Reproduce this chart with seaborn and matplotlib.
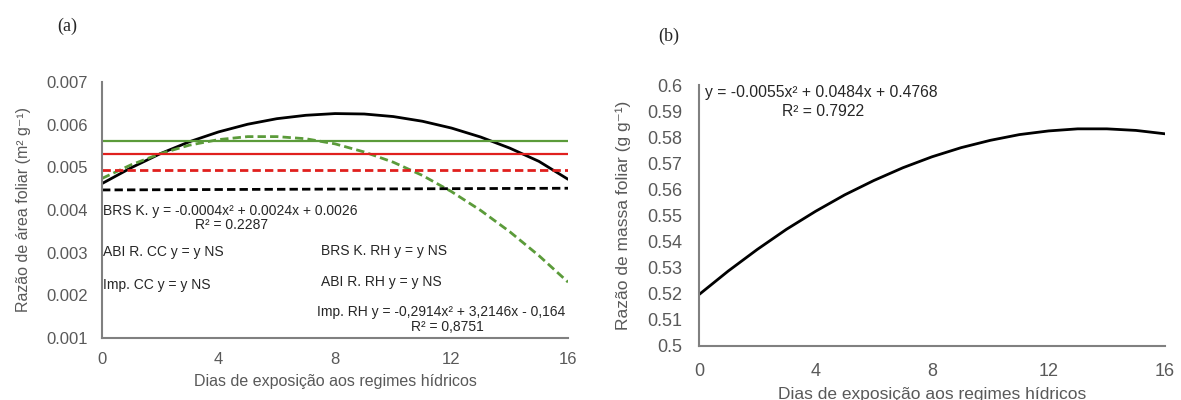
import matplotlib
matplotlib.use("Agg")
import matplotlib.pyplot as plt
import numpy as np
import pandas as pd
import seaborn as sns

# ── Data ────────────────────────────────────────────────────────────────────
days = list(range(0, 17))

# (a) leaf area ratio (m2 g-1)
brs_cc = [0.00462, 0.00499, 0.00532, 0.00560, 0.00583, 0.00601, 0.00614, 0.00622,
          0.00626, 0.00625, 0.00619, 0.00608, 0.00592, 0.00571, 0.00545, 0.00514, 0.00472]
imp_rh = [0.00474, 0.00506, 0.00532, 0.00552, 0.00565, 0.00572, 0.00572, 0.00567,
          0.00555, 0.00536, 0.00512, 0.00481, 0.00443, 0.00399, 0.00349, 0.00293, 0.00231]
days_flat = [0, 16]
imp_cc = [0.00562, 0.00562]
abi_cc = [0.00532, 0.00532]
abi_rh = [0.00494, 0.00494]
brs_rh = [0.00447, 0.00451]

# (b) leaf mass ratio (g g-1)
rmf = [0.5197, 0.5287, 0.5370, 0.5447, 0.5516, 0.5579, 0.5634, 0.5683, 0.5725,
       0.5760, 0.5788, 0.5810, 0.5824, 0.5832, 0.5832, 0.5826, 0.5813]

xticks = [0, 4, 8, 12, 16]
yticks_a = [0.001, 0.002, 0.003, 0.004, 0.005, 0.006, 0.007]
yticks_b = [0.5, 0.51, 0.52, 0.53, 0.54, 0.55, 0.56, 0.57, 0.58, 0.59, 0.6]

GREEN = "#5B9B3A"
RED = "#E0201E"
BLACK = "#000000"
GRAY = "#595959"
TXT = "#262626"
DASH = (0, (3, 1.5))

sns.set_theme(style="white")
plt.rcParams.update({
    "font.family": ["Liberation Sans", "DejaVu Sans"],
    "axes.edgecolor": "#808080",
    "xtick.color": GRAY,
    "ytick.color": GRAY,
    "axes.labelcolor": GRAY,
})

fig = plt.figure(figsize=(11.81, 4.0), dpi=100)
ax1 = fig.add_axes([0.0864, 0.155, 0.3946, 0.64])
ax2 = fig.add_axes([0.5919, 0.135, 0.3946, 0.6525])

# ── Panel (a) ───────────────────────────────────────────────────────────────
sns.lineplot(x=days, y=brs_cc, ax=ax1, color=BLACK, lw=2.0)
sns.lineplot(x=days, y=imp_rh, ax=ax1, color=GREEN, lw=2.0, linestyle=DASH)
sns.lineplot(x=days_flat, y=imp_cc, ax=ax1, color=GREEN, lw=1.6)
sns.lineplot(x=days_flat, y=abi_cc, ax=ax1, color=RED, lw=1.6)
sns.lineplot(x=days_flat, y=abi_rh, ax=ax1, color=RED, lw=2.0, linestyle=DASH)
sns.lineplot(x=days_flat, y=brs_rh, ax=ax1, color=BLACK, lw=2.0, linestyle=DASH)

ax1.set_xlim(0, 16)
ax1.set_ylim(0.001, 0.007)
ax1.set_xticks(xticks)
ax1.set_yticks(yticks_a)
ax1.set_yticklabels([f"{v:.3f}" for v in yticks_a])
ax1.set_xlabel("Dias de exposição aos regimes hídricos", fontsize=11.5, labelpad=5)
ax1.set_ylabel("Razão de área foliar (m² g⁻¹)", fontsize=11.5, labelpad=11)

fs = 10
ax1.text(0.03, 0.00398, "BRS K. y = -0.0004x² + 0.0024x + 0.0026", fontsize=fs, va="center", color=TXT)
ax1.text(4.46, 0.00365, "R² = 0.2287", fontsize=fs, va="center", ha="center", color=TXT)
ax1.text(0.03, 0.00302, "ABI R. CC y = y NS", fontsize=fs, va="center", color=TXT)
ax1.text(0.03, 0.00224, "Imp. CC y = y NS", fontsize=fs, va="center", color=TXT)
ax1.text(7.52, 0.00304, "BRS K. RH y = y NS", fontsize=fs, va="center", color=TXT)
ax1.text(7.52, 0.00231, "ABI R. RH y = y NS", fontsize=fs, va="center", color=TXT)
ax1.text(7.38, 0.00161, "Imp. RH y = -0,2914x² + 3,2146x - 0,164", fontsize=fs, va="center", color=TXT)
ax1.text(11.85, 0.00126, "R² = 0,8751", fontsize=fs, va="center", ha="center", color=TXT)

# ── Panel (b) ───────────────────────────────────────────────────────────────
sns.lineplot(x=days, y=rmf, ax=ax2, color=BLACK, lw=2.0)
ax2.set_xlim(0, 16)
ax2.set_ylim(0.5, 0.6)
ax2.set_xticks(xticks)
ax2.set_yticks(yticks_b)
ax2.set_yticklabels([f"{v:g}" for v in yticks_b])
ax2.set_xlabel("Dias de exposição aos regimes hídricos", fontsize=12.5, labelpad=5)
ax2.set_ylabel("Razão de massa foliar (g g⁻¹)", fontsize=12.5, labelpad=12)
ax2.text(0.2, 0.5973, "y = -0.0055x² + 0.0484x + 0.4768", fontsize=11.3, va="center", color=TXT)
ax2.text(4.26, 0.5897, "R² = 0.7922", fontsize=11.3, va="center", ha="center", color=TXT)

for ax in (ax1, ax2):
    sns.despine(ax=ax)
    ax.spines["left"].set_linewidth(1.5)
    ax.spines["bottom"].set_linewidth(1.5)
    ax.tick_params(axis="both", length=0)
    ax.grid(False)
ax1.tick_params(axis="both", labelsize=12, pad=10)
ax2.tick_params(axis="both", labelsize=13, pad=12)

fig.text(0.057, 0.933, "(a)", fontsize=13, family="Liberation Serif", ha="center", va="center")
fig.text(0.566, 0.91, "(b)", fontsize=13, family="Liberation Serif", ha="center", va="center")

fig.savefig("out.png", dpi=100)
